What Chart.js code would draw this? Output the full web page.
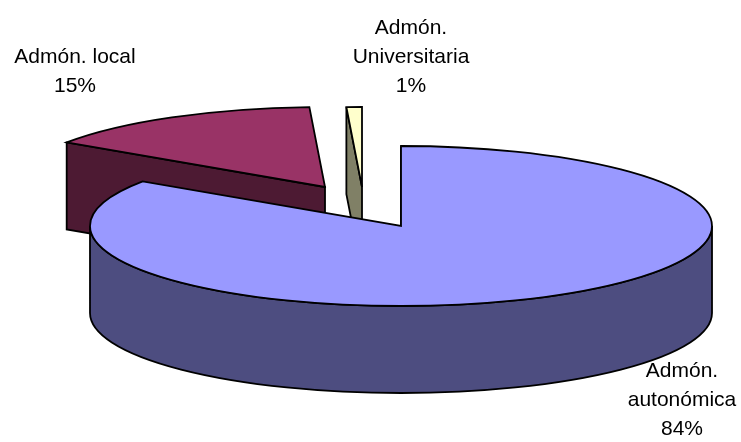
<!DOCTYPE html>
<html>
<head>
<meta charset="utf-8">
<script src="https://cdn.jsdelivr.net/npm/chart.js@4"></script>
<style>
    html, body { margin: 0; padding: 0; background: #fff; }
    canvas { display: block; }
</style>
</head>
<body>
<canvas id="chart" width="741" height="442"></canvas>
<script>
// slices go clockwise from 12 o'clock
let categories = [['Admón.', 'autonómica'], ['Admón. local'], ['Admón.', 'Universitaria']];
let shares = [84.4, 14.8, 0.8];
let topColors = ['#9999ff', '#993366', '#ffffcc'];
let sideColors = ['#4d4d80', '#4d1a33', '#808066'];

// how the flat pie is laid down as a 3d one
const tilt = 80 / 311;
const depth = 87;
const explode = [[0, 0], [-76, -39], [-39, -39]];
const labelPos = [[682, 371], [75, 57], [411, 28]];
const lineHeight = 29;

function sideFaces(ctx, el, i)
{
    let rx = el.outerRadius;
    let ry = rx * tilt;
    let x = el.x + explode[i][0];
    let y = el.y + explode[i][1];
    let px = x + rx * Math.cos(el.startAngle);
    let py = y + ry * Math.sin(el.startAngle);

    ctx.fillStyle = sideColors[i];

    // cut face along the start edge
    ctx.beginPath();
    ctx.moveTo(x, y);
    ctx.lineTo(px, py);
    ctx.lineTo(px, py + depth);
    ctx.lineTo(x, y + depth);
    ctx.closePath();
    ctx.fill();
    ctx.stroke();

    // rim, only the front half can be seen
    let a = Math.max(el.startAngle, 0);
    let b = Math.min(el.endAngle, Math.PI);
    if (b > a) {
        ctx.beginPath();
        ctx.ellipse(x, y, rx, ry, 0, a, b);
        ctx.ellipse(x, y + depth, rx, ry, 0, b, a, true);
        ctx.closePath();
        ctx.fill();
        ctx.stroke();
    }
}

function topFace(ctx, el, i)
{
    let rx = el.outerRadius;
    let ry = rx * tilt;
    let x = el.x + explode[i][0];
    let y = el.y + explode[i][1];

    // the arc element fills itself, squashed
    ctx.save();
    ctx.translate(x, y);
    ctx.scale(1, tilt);
    ctx.translate(-el.x, -el.y);
    el.draw(ctx);
    ctx.restore();

    // outline afterwards so the line keeps one width
    ctx.beginPath();
    ctx.moveTo(x, y);
    ctx.ellipse(x, y, rx, ry, 0, el.startAngle, el.endAngle);
    ctx.closePath();
    ctx.stroke();
}

const pie3d = {
    id: 'pie3d',
    beforeDatasetsDraw(chart) {
        let ctx = chart.ctx;
        let arcs = chart.getDatasetMeta(0).data;

        ctx.save();
        ctx.strokeStyle = '#000';
        ctx.lineWidth = 1.8;

        // back slices first
        for (let i = arcs.length - 1; i >= 0; i--) {
            sideFaces(ctx, arcs[i], i);
            topFace(ctx, arcs[i], i);
        }

        ctx.fillStyle = '#000';
        ctx.font = '21px "Liberation Sans", Arial, sans-serif';
        ctx.textAlign = 'center';
        ctx.textBaseline = 'middle';
        categories.forEach((lines, i) => {
            let rows = lines.concat(Math.round(shares[i]) + '%');
            rows.forEach((row, r) => {
                ctx.fillText(row, labelPos[i][0], labelPos[i][1] + r * lineHeight);
            });
        });
        ctx.restore();

        return false;
    }
};

new Chart(document.getElementById('chart'), {
    type: 'pie',
    data: {
        labels: categories,
        datasets: [{
            data: shares,
            backgroundColor: topColors,
            borderWidth: 0,
            radius: 311
        }]
    },
    options: {
        responsive: false,
        animation: false,
        layout: { padding: { left: 61, top: 10 } },
        plugins: {
            legend: { display: false },
            tooltip: { enabled: false }
        }
    },
    plugins: [pie3d]
});
</script>
</body>
</html>
